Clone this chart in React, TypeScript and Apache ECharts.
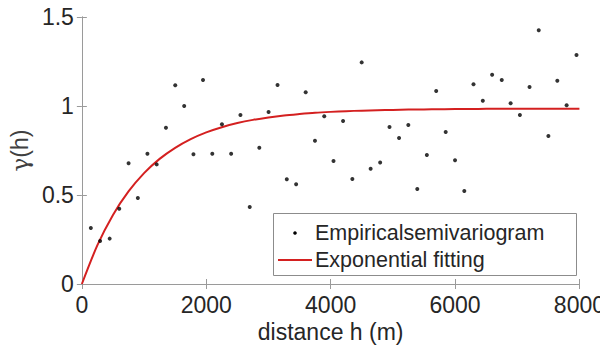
import React, { useEffect, useRef } from "react";
import * as echarts from "echarts";

const hValues = [144, 293, 447, 601, 751, 900, 1054, 1203, 1352, 1501, 1645, 1794, 1948, 2097, 2252, 2400, 2550, 2699, 2853, 3002, 3146, 3295, 3445, 3599, 3748, 3897, 4046, 4200, 4349, 4499, 4643, 4796, 4946, 5100, 5249, 5393, 5547, 5697, 5850, 6000, 6149, 6297, 6447, 6596, 6751, 6894, 7043, 7198, 7346, 7501, 7645, 7794, 7953];
const gammaValues = [0.315, 0.242, 0.255, 0.423, 0.678, 0.483, 0.732, 0.672, 0.878, 1.116, 1.0, 0.729, 1.146, 0.732, 0.897, 0.732, 0.949, 0.433, 0.766, 0.966, 1.118, 0.588, 0.56, 1.077, 0.805, 0.942, 0.691, 0.916, 0.59, 1.245, 0.648, 0.682, 0.882, 0.82, 0.893, 0.534, 0.725, 1.084, 0.854, 0.695, 0.522, 1.122, 1.03, 1.176, 1.146, 1.015, 0.949, 1.107, 1.425, 0.831, 1.142, 1.004, 1.287];

const fitH = [0, 250, 500, 750, 1000, 1250, 1500, 1750, 2000, 2250, 2500, 2750, 3000, 3250, 3500, 3750, 4000, 4250, 4500, 4750, 5000, 5250, 5500, 5750, 6000, 6250, 6500, 6750, 7000, 7250, 7500, 7750, 8000];
const fitGamma = [0, 0.218, 0.388, 0.52, 0.623, 0.703, 0.765, 0.814, 0.852, 0.881, 0.904, 0.922, 0.936, 0.947, 0.955, 0.962, 0.967, 0.971, 0.974, 0.976, 0.978, 0.98, 0.981, 0.982, 0.983, 0.983, 0.984, 0.984, 0.984, 0.985, 0.985, 0.985, 0.985];

const xTicks = ["0", "2000", "4000", "6000", "8000"];
const yTicks = ["0", "0.5", "1", "1.5"];

const legendLabels = ["Empiricalsemivariogram", "Exponential fitting"];
const xAxisName = "distance h (m)";
const yAxisGreek = "γ";
const yAxisRest = "(h)";

const FONT = "Liberation Sans, Arial, sans-serif";
const TEXT = "#262626";
const FRAME = "#9a9a9a";
const RED = "#d42020";

export default function App() {
  const ref = useRef<HTMLDivElement>(null);
  useEffect(() => {
    if (!ref.current) return;
    const chart = echarts.init(ref.current, undefined, { renderer: "svg" });
    const scatterData = hValues.map((h, i) => [h, gammaValues[i]]);
    const fitData = fitH.map((h, i) => [h, fitGamma[i]]);
    const axisCommon = {
      axisLine: { show: true, lineStyle: { color: FRAME, width: 1 } },
      axisTick: { show: true, inside: true, length: 5, lineStyle: { color: FRAME } },
      splitLine: { show: false },
    };
    chart.setOption({
      animation: false,
      grid: { left: 81, right: 26, top: 17, bottom: 70, containLabel: false },
      xAxis: [
        {
          type: "value",
          min: 0,
          max: 8000,
          interval: 2000,
          ...axisCommon,
          axisLabel: {
            color: TEXT,
            fontSize: 23,
            fontFamily: FONT,
            margin: 9,
            formatter: (v: number) => xTicks[Math.round(v / 2000)] ?? "",
          },
          name: xAxisName,
          nameLocation: "middle",
          nameGap: 26,
          nameTextStyle: { color: TEXT, fontSize: 23, fontFamily: FONT },
        },
        {
          type: "value",
          position: "top",
          min: 0,
          max: 8000,
          interval: 2000,
          ...axisCommon,
          axisLabel: { show: false },
        },
      ],
      yAxis: [
        {
          type: "value",
          min: 0,
          max: 1.5,
          interval: 0.5,
          ...axisCommon,
          axisLabel: {
            color: TEXT,
            fontSize: 23,
            fontFamily: FONT,
            margin: 8,
            formatter: (v: number) => yTicks[Math.round(v / 0.5)] ?? "",
          },
          name: `{g|${yAxisGreek}}{r|${yAxisRest}}`,
          nameLocation: "middle",
          nameGap: 39,
          nameTextStyle: {
            color: "#404040",
            fontSize: 23,
            fontFamily: FONT,
            rich: {
              g: { color: "#404040", fontSize: 23, fontFamily: "DejaVu Serif, serif" },
              r: { color: "#404040", fontSize: 23, fontFamily: FONT },
            },
          },
        },
        {
          type: "value",
          position: "right",
          min: 0,
          max: 1.5,
          interval: 0.5,
          ...axisCommon,
          axisLabel: { show: false },
        },
      ],
      series: [
        {
          name: legendLabels[0],
          type: "scatter",
          data: scatterData,
          symbol: "circle",
          symbolSize: 4,
          itemStyle: { color: "#000" },
          z: 3,
        },
        {
          name: legendLabels[1],
          type: "line",
          data: fitData,
          symbol: "none",
          smooth: 0.3,
          lineStyle: { color: RED, width: 2 },
          z: 2,
        },
      ],
      graphic: [
        {
          type: "rect",
          shape: { x: 273.5, y: 213.5, width: 303, height: 62 },
          style: { fill: "#fff", stroke: "#8c8c8c", lineWidth: 1 },
          z: 10,
        },
        {
          type: "circle",
          shape: { cx: 295, cy: 233, r: 1.8 },
          style: { fill: "#000" },
          z: 11,
        },
        {
          type: "line",
          shape: { x1: 278, y1: 260, x2: 312, y2: 260 },
          style: { stroke: RED, lineWidth: 2 },
          z: 11,
        },
        {
          type: "text",
          x: 315,
          y: 233,
          style: {
            text: legendLabels[0],
            fill: TEXT,
            font: `21.5px ${FONT}`,
            verticalAlign: "middle",
            align: "left",
          },
          z: 11,
        },
        {
          type: "text",
          x: 315,
          y: 260,
          style: {
            text: legendLabels[1],
            fill: TEXT,
            font: `21.5px ${FONT}`,
            verticalAlign: "middle",
            align: "left",
          },
          z: 11,
        },
      ],
    });
    return () => chart.dispose();
  }, []);
  return <div ref={ref} style={{ width: 608, height: 354, margin: -8 }} />;
}
